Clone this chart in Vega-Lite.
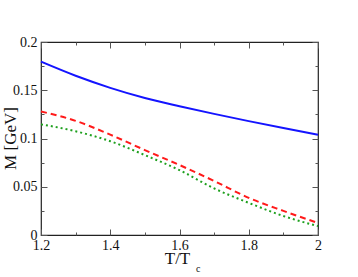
{
  "$schema": "https://vega.github.io/schema/vega-lite/v6.json",
  "autosize": {"type": "none"},
  "padding": {"left": 41, "top": 42, "right": 40, "bottom": 42},
  "width": 277,
  "height": 193,
  "background": "white",
  "config": {
    "view": {"stroke": "#222222", "strokeWidth": 1.2},
    "axis": {
      "grid": false,
      "domain": false,
      "tickColor": "#555555",
      "tickWidth": 1,
      "labelFont": "Liberation Serif",
      "labelFontSize": 14,
      "labelColor": "#111111",
      "titleFont": "Liberation Serif",
      "titleFontSize": 17,
      "titleFontWeight": "normal",
      "titleColor": "#111111"
    }
  },
  "data": {
    "values": [
      {"T": 1.2, "M": 0.1796, "s": "blue"},
      {"T": 1.3, "M": 0.1650, "s": "blue"},
      {"T": 1.4, "M": 0.1525, "s": "blue"},
      {"T": 1.5, "M": 0.1420, "s": "blue"},
      {"T": 1.6, "M": 0.1335, "s": "blue"},
      {"T": 1.7, "M": 0.1255, "s": "blue"},
      {"T": 1.8, "M": 0.1180, "s": "blue"},
      {"T": 1.9, "M": 0.1108, "s": "blue"},
      {"T": 2.0, "M": 0.1039, "s": "blue"},
      {"T": 1.2, "M": 0.1280, "s": "red"},
      {"T": 1.3, "M": 0.1183, "s": "red"},
      {"T": 1.4, "M": 0.1040, "s": "red"},
      {"T": 1.5, "M": 0.0880, "s": "red"},
      {"T": 1.6, "M": 0.0725, "s": "red"},
      {"T": 1.7, "M": 0.0560, "s": "red"},
      {"T": 1.8, "M": 0.0385, "s": "red"},
      {"T": 1.9, "M": 0.0250, "s": "red"},
      {"T": 2.0, "M": 0.0125, "s": "red"},
      {"T": 1.2, "M": 0.1147, "s": "green"},
      {"T": 1.3, "M": 0.1075, "s": "green"},
      {"T": 1.4, "M": 0.0972, "s": "green"},
      {"T": 1.5, "M": 0.0828, "s": "green"},
      {"T": 1.6, "M": 0.0672, "s": "green"},
      {"T": 1.7, "M": 0.0483, "s": "green"},
      {"T": 1.8, "M": 0.0333, "s": "green"},
      {"T": 1.9, "M": 0.0197, "s": "green"},
      {"T": 2.0, "M": 0.0092, "s": "green"}
    ]
  },
  "resolve": {"axis": {"x": "independent", "y": "independent"}},
  "layer": [
    {
      "transform": [{"filter": "datum.s == 'blue'"}],
      "mark": {"type": "line", "color": "#1414ff", "strokeWidth": 2, "interpolate": "monotone"},
      "encoding": {
        "x": {"field": "T", "type": "quantitative",
          "scale": {"domain": [1.2, 2.0], "nice": false, "zero": false},
          "axis": {"orient": "bottom", "title": "T/T", "titleX": 136, "titleY": 21, "titleBaseline": "top",
            "values": [1.2, 1.4, 1.6, 1.8, 2.0],
            "labelExpr": "toString(datum.value)",
            "offset": -6, "tickSize": 6, "labelPadding": 3, "labelFlush": false}},
        "y": {"field": "M", "type": "quantitative",
          "scale": {"domain": [0, 0.2], "nice": false},
          "axis": {"orient": "left", "title": "M [GeV]", "titleX": -32, "titleY": 96, "titleBaseline": "alphabetic",
            "values": [0, 0.05, 0.1, 0.15, 0.2],
            "labelExpr": "toString(datum.value)",
            "offset": -6, "tickSize": 6, "labelPadding": 4, "labelFlush": false}}
      }
    },
    {
      "transform": [{"filter": "datum.s == 'red'"}],
      "mark": {"type": "line", "color": "#ff1a1a", "strokeWidth": 2, "strokeDash": [6, 4], "interpolate": "monotone"},
      "encoding": {
        "x": {"field": "T", "type": "quantitative",
          "axis": {"orient": "top", "title": null, "labels": false,
            "values": [1.2, 1.4, 1.6, 1.8, 2.0], "offset": -6, "tickSize": 6}},
        "y": {"field": "M", "type": "quantitative",
          "axis": {"orient": "right", "title": null, "labels": false,
            "values": [0, 0.05, 0.1, 0.15, 0.2], "offset": -6, "tickSize": 6}}
      }
    },
    {
      "transform": [{"filter": "datum.s == 'green'"}],
      "mark": {"type": "line", "color": "#1ea01e", "strokeWidth": 2, "strokeDash": [2, 3], "interpolate": "monotone"},
      "encoding": {
        "x": {"field": "T", "type": "quantitative",
          "axis": {"orient": "bottom", "title": null, "labels": false,
            "values": [1.3, 1.5, 1.7, 1.9], "offset": -3, "tickSize": 3}},
        "y": {"field": "M", "type": "quantitative",
          "axis": {"orient": "left", "title": null, "labels": false,
            "values": [0.025, 0.075, 0.125, 0.175], "offset": -3, "tickSize": 3}}
      }
    },
    {
      "transform": [{"filter": "datum.s == 'blue'"}],
      "mark": {"type": "line", "opacity": 0, "strokeWidth": 0},
      "encoding": {
        "x": {"field": "T", "type": "quantitative",
          "axis": {"orient": "top", "title": null, "labels": false,
            "values": [1.3, 1.5, 1.7, 1.9], "offset": -3, "tickSize": 3}},
        "y": {"field": "M", "type": "quantitative",
          "axis": {"orient": "right", "title": null, "labels": false,
            "values": [0.025, 0.075, 0.125, 0.175], "offset": -3, "tickSize": 3}}
      }
    },
    {
      "data": {"values": [{"label": "c"}]},
      "mark": {"type": "text", "font": "Liberation Serif", "fontSize": 10, "color": "#111111", "align": "left", "baseline": "alphabetic", "clip": false},
      "encoding": {
        "text": {"field": "label"},
        "x": {"datum": 1.6477, "type": "quantitative", "axis": null},
        "y": {"datum": -0.0383, "type": "quantitative", "axis": null}
      }
    }
  ]
}
